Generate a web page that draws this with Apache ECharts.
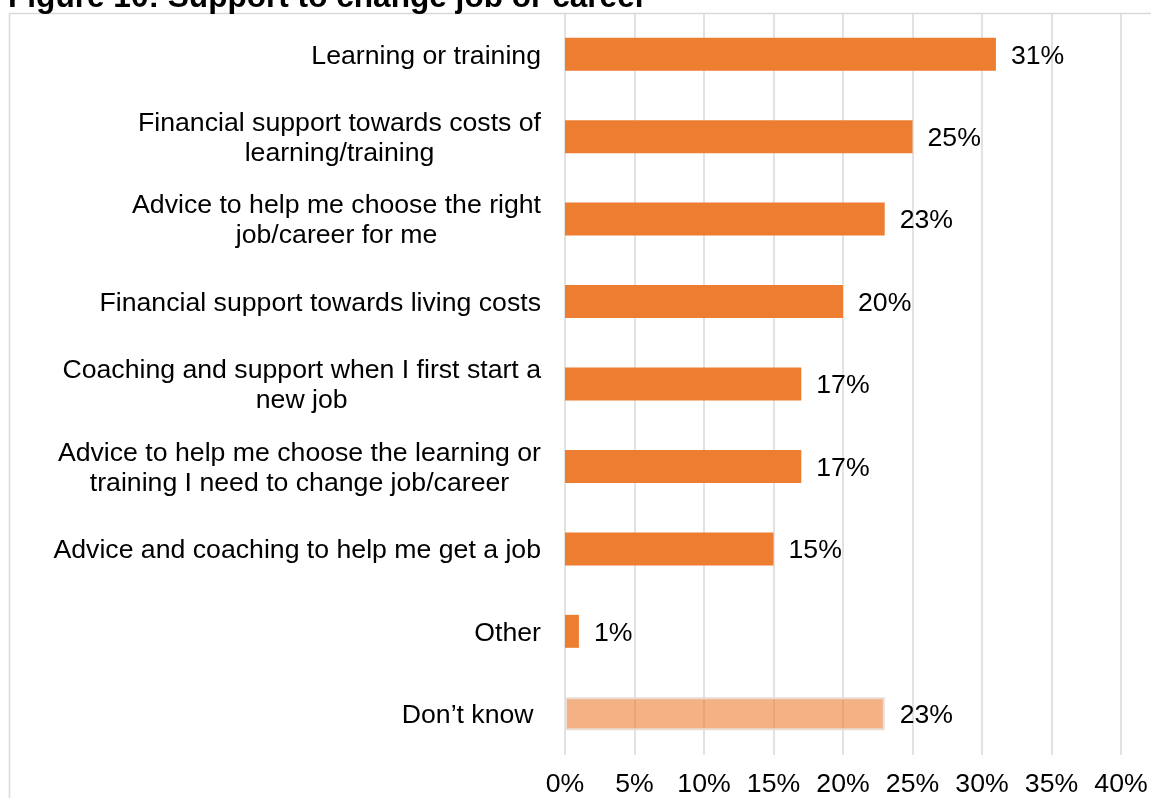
<!DOCTYPE html>
<html>
<head>
<meta charset="utf-8">
<style>
  html, body { margin: 0; padding: 0; background: #fff; }
  #chart { width: 1151px; height: 798px; }
</style>
<script src="https://cdn.jsdelivr.net/npm/echarts@6/dist/echarts.min.js"></script>
</head>
<body>
<div id="chart"></div>
<script>
// Support types (top to bottom); line breaks follow the printed wrapping.
const categories = [
  'Learning or training',
  'Financial support towards costs of\nlearning/training',
  'Advice to help me choose the right\njob/career for me',
  'Financial support towards living costs',
  'Coaching and support when I first start a\nnew job',
  'Advice to help me choose the learning or\ntraining I need to change job/career',
  'Advice and coaching to help me get a job',
  'Other',
  'Don\u2019t know '
];
// Share of respondents (%)
const shares = [31, 25, 23, 20, 17, 17, 15, 1, 23];
// Answers drawn in the paler shade
const paleCategories = ['Don\u2019t know '];

const xTicks = { min: 0, max: 40, interval: 5 };

const FONT = "'Liberation Sans', Arial, sans-serif";
const FS = 26.67;      // 20pt body text
const TITLE_FS = 31.6; // heading
const ORANGE = '#ED7D31';
const PALE = 'rgba(237,125,49,0.6)';

const chart = echarts.init(document.getElementById('chart'), null, { renderer: 'canvas' });

const seriesData = categories.map((c, i) => {
  const pale = paleCategories.includes(c);
  return {
    value: shares[i],
    itemStyle: pale
      ? { color: PALE, borderColor: '#e9dcd5', borderWidth: 2 }
      : { color: ORANGE }
  };
});

chart.setOption({
  animation: false,
  backgroundColor: '#fff',
  textStyle: { fontFamily: FONT },
  graphic: [
    {
      type: 'rect',
      silent: true,
      shape: { x: 9.5, y: 13.5, width: 1300, height: 900 },
      style: { fill: null, stroke: '#d9d9d9', lineWidth: 1.5 },
      z: -10
    },
    {
      type: 'text',
      x: 8,
      y: -18,
      style: {
        text: 'Figure 10: Support to change job or career',
        font: 'bold ' + TITLE_FS + 'px ' + FONT,
        fill: '#000',
        textVerticalAlign: 'top'
      }
    }
  ],
  grid: { left: 565, right: 30, top: 13, bottom: 43, containLabel: false },
  xAxis: {
    type: 'value',
    min: xTicks.min,
    max: xTicks.max,
    interval: xTicks.interval,
    axisLine: { show: false },
    axisTick: { show: false },
    axisLabel: {
      formatter: '{value}%',
      color: '#000',
      fontSize: FS,
      fontFamily: FONT,
      margin: 16
    },
    splitLine: { show: true, lineStyle: { color: '#d9d9d9', width: 1.5 } }
  },
  yAxis: {
    type: 'category',
    data: categories,
    inverse: true,
    axisLine: { show: false },
    axisTick: { show: false },
    axisLabel: {
      color: '#000',
      fontSize: FS,
      fontFamily: FONT,
      margin: 24,
      align: 'right',
      lineHeight: 30,
      padding: [4, 0, 0, 0],
      formatter: v => v.split('\n').map(l => '{c|' + l + '}').join('\n'),
      rich: {
        c: { align: 'center', fontSize: FS, fontFamily: FONT, color: '#000', lineHeight: 30 }
      }
    }
  },
  series: [{
    type: 'bar',
    data: seriesData,
    barCategoryGap: '60%',
    label: {
      show: true,
      position: 'right',
      distance: 15,
      offset: [0, 2],
      formatter: '{c}%',
      color: '#000',
      fontSize: FS,
      fontFamily: FONT
    }
  }]
});
</script>
</body>
</html>
